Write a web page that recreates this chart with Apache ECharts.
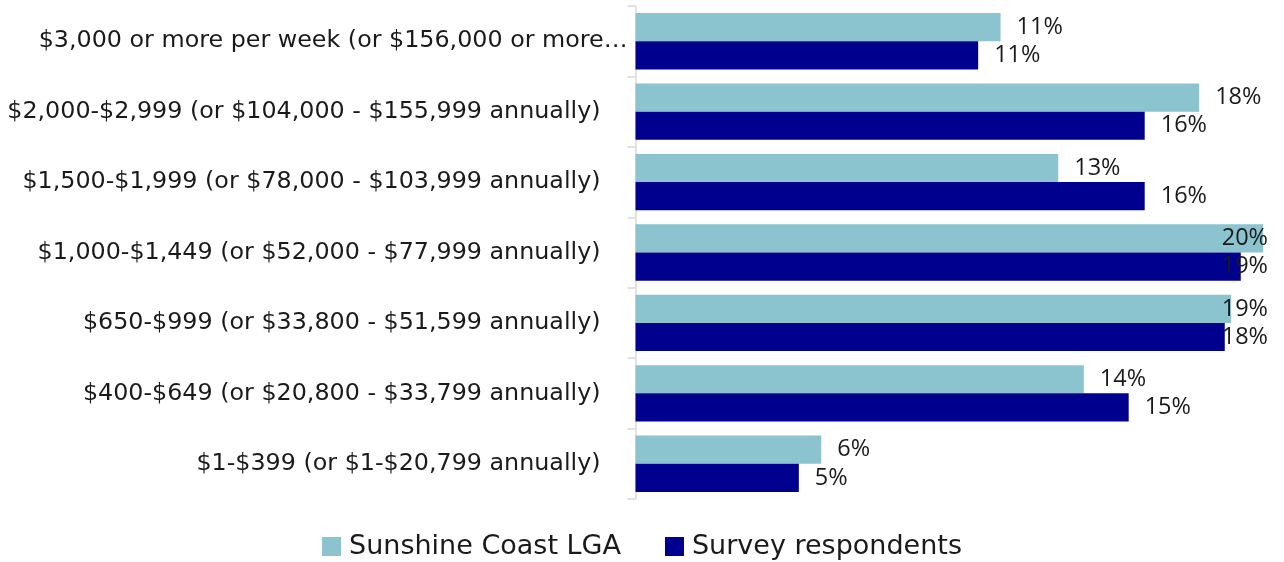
<!DOCTYPE html>
<html>
<head>
<meta charset="utf-8">
<style>
  html, body { margin: 0; padding: 0; background: #ffffff; }
  #chart { width: 1284px; height: 562px; }
</style>
<script src="https://cdn.jsdelivr.net/npm/echarts@6/dist/echarts.min.js"></script>
</head>
<body>
<div id="chart"></div>
<script>
// Weekly household income brackets (top to bottom)
const categories = [
  '$3,000 or more per week (or $156,000 or more…',
  '$2,000-$2,999 (or $104,000 - $155,999 annually)',
  '$1,500-$1,999 (or $78,000 - $103,999 annually)',
  '$1,000-$1,449 (or $52,000 - $77,999 annually)',
  '$650-$999 (or $33,800 - $51,599 annually)',
  '$400-$649 (or $20,800 - $33,799 annually)',
  '$1-$399 (or $1-$20,799 annually)'
];

// Share of households, percent
const sunshineCoastLGA = [11.4, 17.6, 13.2, 19.6, 18.6, 14.0, 5.8];
const surveyRespondents = [10.7, 15.9, 15.9, 18.9, 18.4, 15.4, 5.1];

const seriesNames = ['Sunshine Coast LGA', 'Survey respondents'];
const seriesColors = ['#8bc3ce', '#00008f'];

const LABEL_FONT = '"Open Sans", "Noto Sans", sans-serif';
const AXIS_FONT = '"DejaVu Sans", "Open Sans", sans-serif';
const GRID_RIGHT = 8;

const chart = echarts.init(document.getElementById('chart'), null, { renderer: 'canvas' });

// keep value labels inside the plot's right edge
function clampLabel(params) {
  const limit = chart.getWidth() - GRID_RIGHT - 8;
  const over = params.labelRect.x + params.labelRect.width - limit;
  return over > 0 ? { dx: -over } : {};
}

function makeSeries(name, data, color) {
  return {
    name: name,
    type: 'bar',
    data: data,
    barGap: '0%',
    barCategoryGap: '20%',
    itemStyle: { color: color },
    label: {
      show: true,
      position: 'right',
      distance: 16,
      formatter: p => Math.round(p.value) + '%',
      fontFamily: LABEL_FONT,
      fontSize: 23.5,
      color: '#1a1a1a'
    },
    labelLayout: clampLabel
  };
}

const axisText = { fontFamily: AXIS_FONT, fontSize: 23.8, color: '#1a1a1a' };

chart.setOption({
  animation: false,
  backgroundColor: '#ffffff',
  grid: { left: 635.5, right: GRID_RIGHT, top: 6, bottom: 63, containLabel: false },
  xAxis: {
    type: 'value',
    min: 0,
    max: 20,
    show: false
  },
  yAxis: {
    type: 'category',
    data: categories,
    inverse: true,
    axisLine: { show: true, lineStyle: { color: '#d9d9d9', width: 1.5 } },
    axisTick: { show: true, length: 8, lineStyle: { color: '#d9d9d9', width: 1.5 } },
    axisLabel: {
      fontFamily: AXIS_FONT,
      fontSize: 23.8,
      color: '#1a1a1a',
      margin: 8,
      // truncated labels sit right against the axis, full ones keep a wider gap
      formatter: v => (v.endsWith('…') ? '{cut|' + v + '}' : '{full|' + v + '}'),
      rich: {
        cut: Object.assign({}, axisText),
        full: Object.assign({ padding: [0, 27, 0, 0] }, axisText)
      }
    },
    splitLine: { show: false }
  },
  legend: {
    data: seriesNames,
    bottom: -3,
    left: 'center',
    itemWidth: 19,
    itemHeight: 19,
    itemGap: 44,
    icon: 'rect',
    textStyle: { fontFamily: AXIS_FONT, fontSize: 27, color: '#1a1a1a', padding: [0, 0, 0, 3] }
  },
  series: [
    makeSeries(seriesNames[0], sunshineCoastLGA, seriesColors[0]),
    makeSeries(seriesNames[1], surveyRespondents, seriesColors[1])
  ]
});
</script>
</body>
</html>
